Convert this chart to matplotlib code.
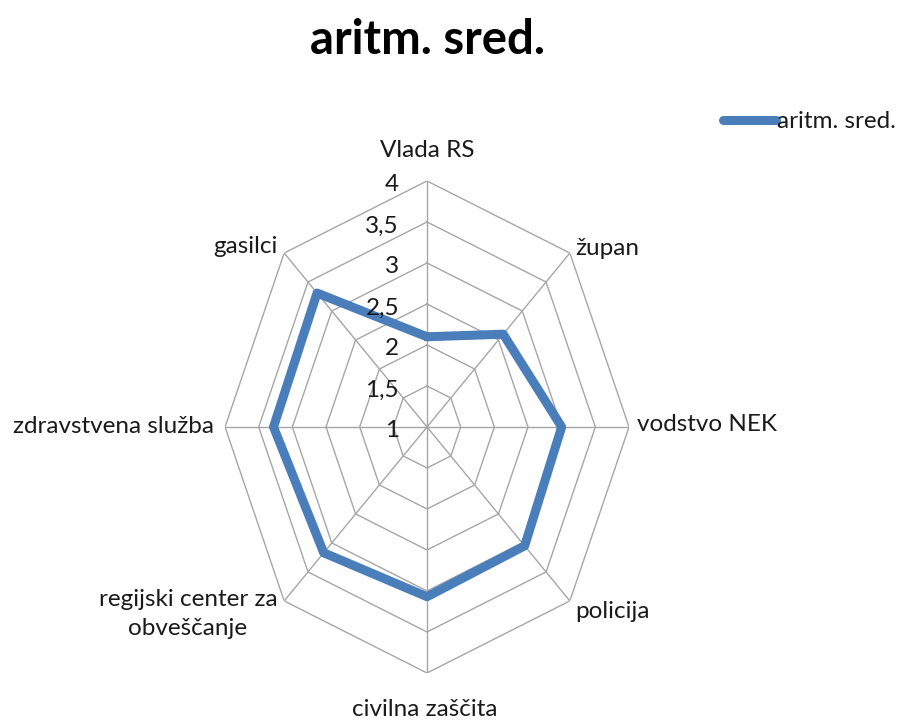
import numpy as np
import matplotlib.pyplot as plt

plt.rcParams['font.family'] = ['Lato', 'DejaVu Sans']

categories = ['Vlada RS', 'župan', 'vodstvo NEK', 'policija', 'civilna zaščita',
              'regijski center za\nobveščanje', 'zdravstvena služba', 'gasilci']
values = [2.1, 2.6, 3.0, 3.05, 3.07, 3.17, 3.28, 3.31]
ticks = [1, 1.5, 2, 2.5, 3, 3.5, 4]
tick_labels = ['1', '1,5', '2', '2,5', '3', '3,5', '4']
series_name = 'aritm. sred.'

grid_col = '#a6a6a6'
blue = '#4a7ebb'
txt_col = '#1a1a1a'

fig = plt.figure(figsize=(8.99, 7.21), dpi=100)
ax = fig.add_axes([0.2503, 0.0666, 0.4494, 0.6824], projection='polar')
ax.set_aspect('auto')
ax.set_theta_zero_location('N')
ax.set_theta_direction(-1)
ax.set_ylim(1, 4)
ax.grid(False)
ax.spines['polar'].set_visible(False)
ax.set_xticks([])
ax.set_yticks([])
ax.patch.set_visible(False)

n = len(categories)
theta = np.arange(n) * 2 * np.pi / n
theta_c = np.append(theta, theta[0])

# octagon rings and spokes
for v in ticks[1:]:
    ax.plot(theta_c, [v] * (n + 1), color=grid_col, lw=1, zorder=1)
for t in theta:
    ax.plot([t, t], [1, 4], color=grid_col, lw=1, zorder=1)

vals_c = values + values[:1]
ax.plot(theta_c, vals_c, color=blue, lw=6.5, solid_joinstyle='round',
        solid_capstyle='round', zorder=3, label=series_name)

# value labels along the vertical axis
for v, lab in zip(ticks, tick_labels):
    ax.annotate(lab, xy=(0, v), xytext=(-28, -4), textcoords='offset pixels',
                ha='right', va='center', fontsize=17.5, color=txt_col)

# category labels
offsets = [(0, 30, 'center'), (5, 5, 'left'), (8, 2, 'left'), (5, -11, 'left'),
           (-2, -37, 'center'), (-7, -13, 'right'), (-11, 0, 'right'), (-7, 7, 'right')]
for t, lab, (dx, dy, ha) in zip(theta, categories, offsets):
    ax.annotate(lab, xy=(t, 4), xytext=(dx, dy), textcoords='offset pixels',
                ha=ha, va='center', fontsize=17.5, color=txt_col,
                multialignment='center', linespacing=1.45)

fig.text(0.475, 0.945, series_name, ha='center', va='center', fontsize=34,
         fontweight='bold', color='black')

fig.legend(loc='center left', bbox_to_anchor=(0.793, 0.831), frameon=False,
           fontsize=17.5, handlelength=2.2, handletextpad=0.05, borderaxespad=0,
           labelcolor=txt_col)

fig.savefig('out.png', dpi=100)
